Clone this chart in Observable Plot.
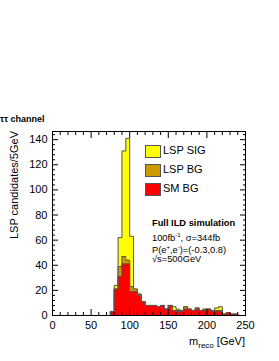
<!DOCTYPE html>
<html><head><meta charset="utf-8">
<script src="https://cdn.jsdelivr.net/npm/d3@7"></script>
<script src="https://cdn.jsdelivr.net/npm/@observablehq/plot@0.6"></script>
<style>
body{margin:0;background:#fff;font-family:"Liberation Sans",Arial,Helvetica,sans-serif;color:#000;}
#wrap{position:relative;width:279px;height:361px;overflow:hidden;}
#wrap svg{position:absolute;left:0;top:0;}
.ov{position:absolute;white-space:nowrap;line-height:1;}
.sw{position:absolute;width:14px;height:11px;border:1px solid #555;}
</style></head><body><div id="wrap"></div>
<script>
// bin lower edges (GeV), 5 GeV bins
const binStart = [0,5,10,15,20,25,30,35,40,45,50,55,60,65,70,75,80,85,90,95,100,105,110,115,120,125,130,135,140,145,150,155,160,165,170,175,180,185,190,195,200,205,210,215,220,225,230,235,240,245];
const smBG   = [0,0,0,0,0,0,0,0,0,0,0,0,0,0,0,3,21,31,41,41,19,19,16,11,8,8,8,7,8,5,8,4,3,3,5,5,4,5,4,4,5,3,4,3,1,2,1,1,0,0];
const lspBG  = [0,0,0,0,0,0,0,0,0,0,0,0,0,0,0,0,0,8,6,3,4,2,1,0,0,0,0,0,0,0,0,0,1,1,2,0,0,1,0,1,0,1,0,1,0,0,0,0,0,0];
const lspSIG = [0,0,0,0,0,0,0,0,0,0,0,0,0,0,0,0,3,23,84,97,40,0,0,0,0,0,0,0,0,0,0,3,1,0,0,0,0,0,0,0,0,0,2,3,0,0,0,0,0,0];
const xEnd = 250;
const yMajor = [0,20,40,60,80,100,120,140];
const yMinor = [4,8,12,16,24,28,32,36,44,48,52,56,64,68,72,76,84,88,92,96,104,108,112,116,124,128,132,136,144];
const xMajor = [0,50,100,150,200,250];
const xMinor = [10,20,30,40,60,70,80,90,110,120,130,140,160,170,180,190,210,220,230,240];
const legendNames = ["LSP SIG","LSP BG","SM BG"];
const colors = {sig:"#ffff00", bg:"#cc9900", sm:"#ff0000"};

function steps(vals){
  const rows = binStart.map((x,i)=>({x, y: vals[i]}));
  rows.push({x: xEnd, y: vals[vals.length-1]});
  return rows;
}
const smRows = steps(smBG);
const bgRows = steps(smBG.map((v,i)=>v+lspBG[i]));
const sigRows = steps(smBG.map((v,i)=>v+lspBG[i]+lspSIG[i]));

const layer = (rows, fill) => [
  Plot.areaY(rows, {x:"x", y:"y", curve:"step-after", fill}),
  Plot.line(rows, {x:"x", y:"y", curve:"step-after", stroke:"#555", strokeWidth:1})
];
const none = () => "";

const chart = Plot.plot({
  width: 279, height: 361,
  marginTop: 131, marginRight: 34, marginBottom: 46, marginLeft: 52,
  style: {fontFamily: '"Liberation Sans", Arial, sans-serif', fontSize: "11px", background: "transparent", overflow: "visible"},
  x: {domain: [0, 250]},
  y: {domain: [0, 146.5]},
  marks: [
    ...layer(sigRows, colors.sig),
    ...layer(bgRows, colors.bg),
    ...layer(smRows, colors.sm),
    Plot.axisY(yMajor, {anchor:"left", tickSize:0, tickPadding:5, fontSize:11, label:null}),
    Plot.axisY(yMajor, {anchor:"left", tickSize:-6, tickFormat:none, label:null}),
    Plot.axisY(yMinor, {anchor:"left", tickSize:-3, tickFormat:none, label:null}),
    Plot.axisY(yMajor, {anchor:"right", tickSize:-6, tickFormat:none, label:null}),
    Plot.axisY(yMinor, {anchor:"right", tickSize:-3, tickFormat:none, label:null}),
    Plot.axisX(xMajor, {anchor:"bottom", tickSize:0, tickPadding:6, fontSize:11, label:null}),
    Plot.axisX(xMajor, {anchor:"bottom", tickSize:-6, tickFormat:none, label:null}),
    Plot.axisX(xMinor, {anchor:"bottom", tickSize:-3, tickFormat:none, label:null}),
    Plot.axisX(xMajor, {anchor:"top", tickSize:-6, tickFormat:none, label:null}),
    Plot.axisX(xMinor, {anchor:"top", tickSize:-3, tickFormat:none, label:null}),
    Plot.frame({stroke:"#000", strokeWidth:1})
  ]
});
const wrap = document.getElementById("wrap");
wrap.appendChild(chart);

function ov(html, css){
  const d = document.createElement("div");
  d.className = "ov";
  d.innerHTML = html;
  Object.assign(d.style, css);
  wrap.appendChild(d);
  return d;
}
// title
ov("&tau;&tau; channel", {left:"0px", top:"115px", fontSize:"9px", fontWeight:"bold"});
// y label
ov("LSP candidates/5GeV", {left:"9px", top:"131px", fontSize:"11px", transformOrigin:"0 0", transform:"rotate(-90deg) translateX(-100%)"});
// x label
ov("m<sub style='font-size:8px;vertical-align:-3px'>reco</sub> [GeV]", {right:"34px", top:"336px", fontSize:"11px"});
// legend
const legendColors = [colors.sig, colors.bg, colors.sm];
legendNames.forEach((n,i)=>{
  const s = document.createElement("div");
  s.className = "sw";
  Object.assign(s.style, {left:"145px", top:(145+19*i)+"px", background:legendColors[i]});
  wrap.appendChild(s);
  ov(n, {left:"163px", top:(145+19*i)+"px", fontSize:"11px"});
});
// annotation
ov("Full ILD simulation", {left:"152px", top:"219px", fontSize:"9.3px", fontWeight:"bold"});
ov("100fb<sup style='font-size:6px'>-1</sup>, &sigma;=344fb", {left:"152px", top:"232px", fontSize:"9.3px"});
ov("P(e<sup style='font-size:6px'>+</sup>,e<sup style='font-size:6px'>-</sup>)=(-0.3,0.8)", {left:"152px", top:"244px", fontSize:"9.3px"});
ov("&radic;s=500GeV", {left:"152px", top:"255px", fontSize:"9.3px"});
</script></body></html>
